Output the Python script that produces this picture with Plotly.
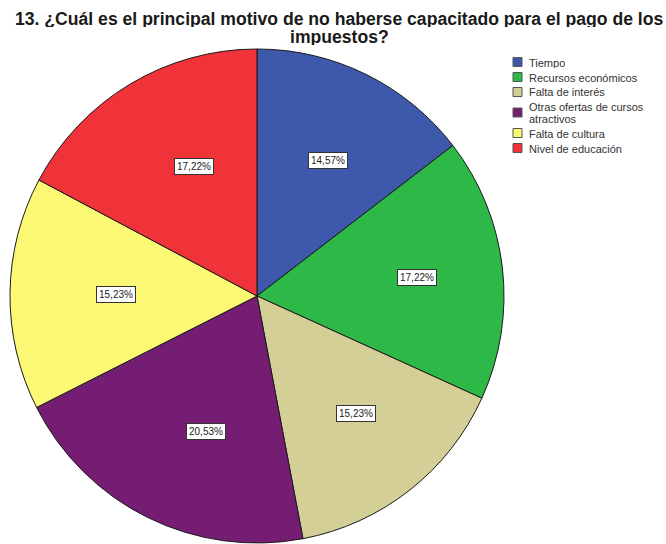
import numpy as np
import plotly.graph_objects as go

# Response categories and their shares (%)
categories = [
    "Tiempo",
    "Recursos económicos",
    "Falta de interés",
    "Otras ofertas de cursos<br>atractivos",
    "Falta de cultura",
    "Nivel de educación",
]
percentages = [14.57, 17.22, 15.23, 20.53, 15.23, 17.22]
colors = ["#3E58AC", "#2EB848", "#D4CE97", "#741D73", "#FBF873", "#EF3338"]

title_lines = [
    "13. ¿Cuál es el principal motivo de no haberse capacitado para el pago de los",
    "impuestos?",
]

W, H = 666, 544
FONT = "Liberation Sans, Arial, sans-serif"
# Pie placement in pixels (centre and radius)
cx, cy, R = 257, 296, 247

dom_x = [(cx - R) / W, (cx + R) / W]
dom_y = [(H - cy - R) / H, (H - cy + R) / H]


def px_x(x):
    return x / W


def px_y(y):
    return (H - y) / H


fig = go.Figure(
    go.Pie(
        labels=categories,
        values=percentages,
        sort=False,
        direction="clockwise",
        rotation=0,
        marker=dict(colors=colors, line=dict(color="#1a1a1a", width=1)),
        textinfo="none",
        hoverinfo="label+percent",
        domain=dict(x=dom_x, y=dom_y),
        showlegend=False,
    )
)

# Boxed percentage labels at each slice's mid-angle
vals = np.array(percentages)
mid = np.cumsum(vals) - vals / 2
theta = np.deg2rad(mid / vals.sum() * 360)
rl = 0.65 * R
for t, v in zip(theta, vals):
    fig.add_annotation(
        x=px_x(cx + rl * np.sin(t)),
        y=px_y(cy - rl * np.cos(t)),
        xref="paper",
        yref="paper",
        text=f"{v:.2f}%".replace(".", ","),
        showarrow=False,
        font=dict(family=FONT, size=10, color="#222222"),
        bgcolor="white",
        bordercolor="#333333",
        borderwidth=1,
        borderpad=2,
    )

# Title, two tightly spaced centred lines
for i, line in enumerate(title_lines):
    fig.add_annotation(
        x=px_x(339),
        y=px_y(19 + 18 * i),
        xref="paper",
        yref="paper",
        xanchor="center",
        yanchor="middle",
        height=17,
        text=f"<b>{line}</b>",
        showarrow=False,
        font=dict(family=FONT, size=17.6, color="#1a1a1a"),
    )

# Legend: colour swatch plus label for each category
y = 62
for name, col in zip(categories, colors):
    parts = name.split("<br>")
    ys = [y + 11 * k for k in range(len(parts))]
    yc = sum(ys) / len(ys)
    fig.add_shape(
        type="rect",
        xref="paper",
        yref="paper",
        x0=px_x(513),
        x1=px_x(522),
        y0=px_y(yc - 4.5),
        y1=px_y(yc + 4.5),
        fillcolor=col,
        line=dict(color="#555555", width=1),
    )
    for part, yy in zip(parts, ys):
        fig.add_annotation(
            x=px_x(527),
            y=px_y(yy),
            xref="paper",
            yref="paper",
            xanchor="left",
            yanchor="middle",
            height=11,
            text=part,
            showarrow=False,
            font=dict(family=FONT, size=11, color="#333333"),
        )
    y = ys[-1] + 15

fig.update_layout(
    width=W,
    height=H,
    margin=dict(l=0, r=0, t=0, b=0),
    paper_bgcolor="white",
    plot_bgcolor="white",
    showlegend=False,
)

fig.write_html("out.html")
